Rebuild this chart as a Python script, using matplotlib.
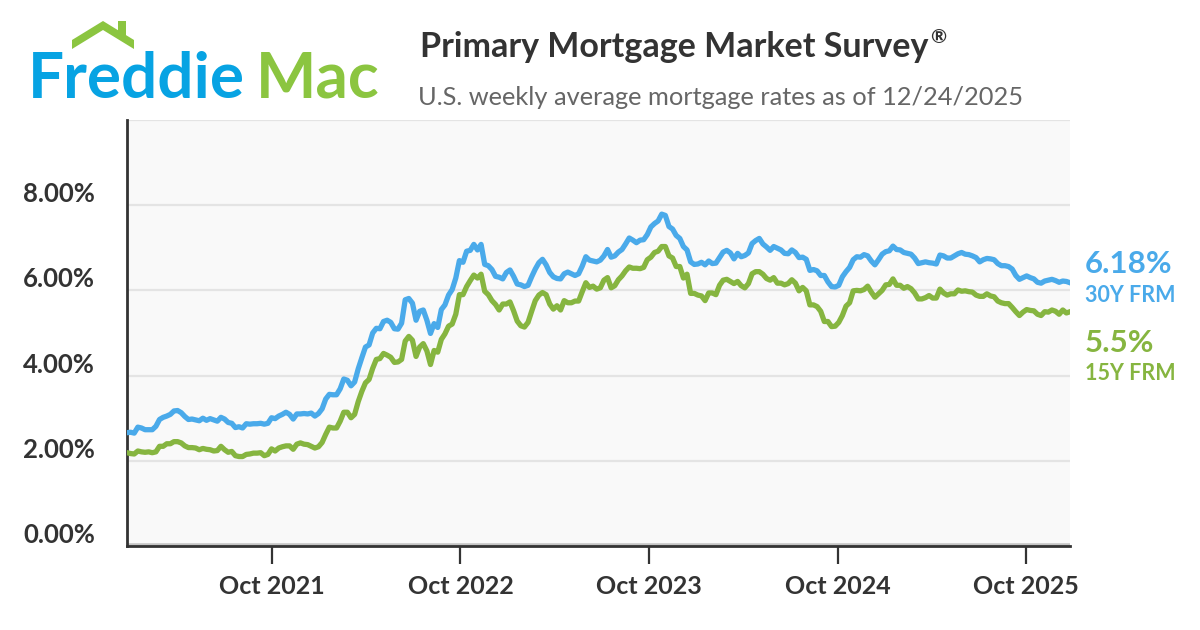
import matplotlib
matplotlib.use('Agg')
import matplotlib.pyplot as plt
import matplotlib.transforms as mtransforms
from matplotlib.patches import Polygon
import pandas as pd

plt.rcParams['font.family'] = ['Lato', 'DejaVu Sans']

# weekly 30-year fixed rate (%), starting 2020-12-24
frm30_2020 = [2.66, 2.67]
frm30_2021 = [2.65, 2.79, 2.77, 2.73, 2.73, 2.73, 2.81, 2.97, 3.02, 3.05, 3.09, 3.17,
              3.18, 3.13, 3.04, 2.97, 2.98, 2.96, 2.94, 3.00, 2.95, 2.99, 2.96, 2.93,
              3.02, 2.98, 2.90, 2.88, 2.78, 2.80, 2.77, 2.87, 2.86, 2.87, 2.87, 2.88,
              2.86, 2.88, 3.01, 2.99, 3.05, 3.09, 3.14, 3.09, 2.98, 3.10, 3.10, 3.11,
              3.10, 3.12, 3.05, 3.11]
frm30_2022 = [3.22, 3.45, 3.56, 3.55, 3.55, 3.69, 3.92, 3.89, 3.76, 3.85, 4.16, 4.42,
              4.67, 4.72, 5.00, 5.11, 5.10, 5.27, 5.30, 5.25, 5.10, 5.09, 5.23, 5.78,
              5.81, 5.70, 5.30, 5.51, 5.54, 5.30, 4.99, 5.22, 5.13, 5.55, 5.66, 5.89,
              6.02, 6.29, 6.70, 6.66, 6.92, 6.94, 7.08, 6.95, 7.08, 6.61, 6.58, 6.49,
              6.33, 6.31, 6.27, 6.42]
frm30_2023 = [6.48, 6.33, 6.15, 6.13, 6.09, 6.12, 6.32, 6.50, 6.65, 6.73, 6.60, 6.42,
              6.32, 6.28, 6.27, 6.39, 6.43, 6.39, 6.35, 6.39, 6.57, 6.79, 6.71, 6.69,
              6.67, 6.71, 6.81, 6.96, 6.78, 6.81, 6.90, 6.96, 7.09, 7.23, 7.18, 7.12,
              7.18, 7.19, 7.31, 7.49, 7.57, 7.63, 7.79, 7.76, 7.50, 7.44, 7.29, 7.22,
              7.03, 6.95, 6.67, 6.61]
frm30_2024 = [6.62, 6.66, 6.60, 6.69, 6.63, 6.64, 6.77, 6.90, 6.94, 6.88, 6.74, 6.87,
              6.79, 6.82, 6.88, 7.10, 7.17, 7.22, 7.09, 7.02, 6.94, 7.03, 6.99, 6.95,
              6.87, 6.86, 6.95, 6.89, 6.77, 6.78, 6.73, 6.47, 6.49, 6.46, 6.35, 6.35,
              6.20, 6.09, 6.08, 6.12, 6.32, 6.44, 6.54, 6.72, 6.79, 6.78, 6.84, 6.81,
              6.69, 6.60, 6.72, 6.85]
frm30_2025 = [6.91, 6.93, 7.04, 6.96, 6.95, 6.89, 6.87, 6.85, 6.76, 6.63, 6.65, 6.67,
              6.65, 6.64, 6.62, 6.83, 6.81, 6.76, 6.76, 6.81, 6.86, 6.89, 6.85, 6.84,
              6.81, 6.77, 6.67, 6.72, 6.75, 6.74, 6.72, 6.63, 6.58, 6.58, 6.56, 6.50,
              6.35, 6.26, 6.30, 6.34, 6.30, 6.27, 6.19, 6.17, 6.22, 6.24, 6.26, 6.23,
              6.19, 6.22, 6.21, 6.18]

# weekly 15-year fixed rate (%)
frm15_2020 = [2.19, 2.17]
frm15_2021 = [2.16, 2.23, 2.21, 2.20, 2.21, 2.19, 2.21, 2.34, 2.34, 2.40, 2.40, 2.45,
              2.45, 2.42, 2.35, 2.31, 2.31, 2.30, 2.26, 2.29, 2.27, 2.26, 2.23, 2.24,
              2.34, 2.26, 2.20, 2.22, 2.12, 2.10, 2.10, 2.15, 2.16, 2.18, 2.18, 2.19,
              2.12, 2.15, 2.28, 2.23, 2.30, 2.33, 2.35, 2.35, 2.27, 2.39, 2.42, 2.39,
              2.38, 2.34, 2.30, 2.33]
frm15_2022 = [2.43, 2.62, 2.79, 2.77, 2.77, 2.93, 3.14, 3.14, 3.01, 3.09, 3.39, 3.63,
              3.83, 3.91, 4.17, 4.38, 4.40, 4.52, 4.48, 4.43, 4.31, 4.32, 4.38, 4.81,
              4.92, 4.83, 4.45, 4.67, 4.75, 4.58, 4.26, 4.59, 4.55, 4.85, 4.98, 5.16,
              5.21, 5.44, 5.90, 5.90, 6.09, 6.23, 6.36, 6.29, 6.38, 5.98, 5.90, 5.76,
              5.67, 5.54, 5.68, 5.68]
frm15_2023 = [5.73, 5.52, 5.28, 5.17, 5.14, 5.25, 5.51, 5.76, 5.89, 5.95, 5.90, 5.68,
              5.56, 5.64, 5.54, 5.76, 5.71, 5.71, 5.75, 5.75, 5.97, 6.18, 6.07, 6.10,
              6.03, 6.06, 6.24, 6.30, 6.06, 6.11, 6.25, 6.34, 6.46, 6.55, 6.52, 6.52,
              6.51, 6.54, 6.72, 6.78, 6.89, 6.92, 7.03, 7.03, 6.81, 6.76, 6.56, 6.56,
              6.29, 6.38, 5.93, 5.93]
frm15_2024 = [5.89, 5.87, 5.76, 5.94, 5.94, 5.90, 6.12, 6.24, 6.26, 6.21, 6.16, 6.21,
              6.11, 6.06, 6.16, 6.39, 6.44, 6.44, 6.38, 6.28, 6.24, 6.30, 6.17, 6.17,
              6.13, 6.16, 6.25, 6.17, 5.99, 6.07, 5.99, 5.66, 5.66, 5.62, 5.51, 5.27,
              5.27, 5.15, 5.16, 5.25, 5.41, 5.63, 5.71, 5.99, 6.00, 5.99, 6.02, 6.10,
              5.96, 5.84, 5.92, 6.00]
frm15_2025 = [6.13, 6.14, 6.27, 6.12, 6.12, 6.05, 6.09, 6.04, 5.94, 5.80, 5.80, 5.83,
              5.88, 5.82, 5.82, 6.03, 5.94, 5.89, 5.92, 5.92, 6.01, 5.98, 5.99, 5.97,
              5.96, 5.89, 5.86, 5.86, 5.92, 5.87, 5.85, 5.75, 5.71, 5.69, 5.69, 5.60,
              5.50, 5.41, 5.49, 5.55, 5.53, 5.52, 5.44, 5.41, 5.50, 5.49, 5.54, 5.51,
              5.44, 5.54, 5.47, 5.50]

frm30 = frm30_2020 + frm30_2021 + frm30_2022 + frm30_2023 + frm30_2024 + frm30_2025
frm15 = frm15_2020 + frm15_2021 + frm15_2022 + frm15_2023 + frm15_2024 + frm15_2025
dates = pd.date_range('2020-12-24', periods=len(frm30), freq='7D')

xtick_dates = ['2021-10-01', '2022-10-01', '2023-10-01', '2024-10-01', '2025-10-01']
xtick_labels = ['Oct 2021', 'Oct 2022', 'Oct 2023', 'Oct 2024', 'Oct 2025']
ytick_vals = [0, 2, 4, 6, 8, 10]
ytick_labels = ['0.00%', '2.00%', '4.00%', '6.00%', '8.00%', '']

BLUE = '#4aaaea'
GREEN = '#86b540'
DARK = '#333333'
W, H = 1200, 630

fig = plt.figure(figsize=(12, 6.3), dpi=100, facecolor='white')
ax = fig.add_axes([127 / W, 1 - 546 / H, 943 / W, 426 / H])
ax.set_facecolor('#f9f9f9')

for v in ytick_vals[1:]:
    ax.axhline(v, color='#e4e4e4', lw=1.6, zorder=1)
ax.axhline(0, color='#c4c4c4', lw=4, zorder=1)

ax.plot(dates, frm30, color=BLUE, lw=3.8, solid_joinstyle='round', zorder=3)
ax.plot(dates, frm15, color=GREEN, lw=3.8, solid_joinstyle='round', zorder=3)

ax.set_xlim(dates[0], dates[-1])
ax.set_ylim(0, 10)

for s in ['top', 'right']:
    ax.spines[s].set_visible(False)
for s in ['left', 'bottom']:
    ax.spines[s].set_color(DARK)
    ax.spines[s].set_linewidth(2)

ax.set_xticks(pd.to_datetime(xtick_dates))
ax.set_xticklabels(xtick_labels, fontsize=18, fontweight='bold', color=DARK)
ax.tick_params(axis='x', direction='out', length=13, width=1.6, color=DARK, pad=8)

ax.set_yticks(ytick_vals)
ax.set_yticklabels(ytick_labels, fontsize=18.5, fontweight='bold', color=DARK)
ax.tick_params(axis='y', length=0, pad=23)
shift = mtransforms.ScaledTranslation(0, 13 / 100, fig.dpi_scale_trans)
for lbl in ax.get_yticklabels():
    lbl.set_transform(lbl.get_transform() + shift)

# end-of-series labels
fig.text(1085 / W, 1 - 273 / H, f'{frm30[-1]:g}%', fontsize=22.5, fontweight='bold',
         color=BLUE, va='baseline')
fig.text(1085 / W, 1 - 302 / H, '30Y FRM', fontsize=15.5, fontweight='bold',
         color=BLUE, va='baseline')
fig.text(1085 / W, 1 - 352 / H, f'{frm15[-1]:g}%', fontsize=22.5, fontweight='bold',
         color=GREEN, va='baseline')
fig.text(1085 / W, 1 - 380 / H, '15Y FRM', fontsize=15.5, fontweight='bold',
         color=GREEN, va='baseline')

# header
title = fig.text(420 / W, 1 - 57 / H, 'Primary Mortgage Market Survey', fontsize=24.5,
                 fontweight='bold', color=DARK, va='baseline')
renderer = fig.canvas.get_renderer()
tb = title.get_window_extent(renderer)
fig.text((tb.x1 + 2) / W, 1 - 43 / H, '\u00ae', fontsize=14, fontweight='bold',
         color=DARK, va='baseline')
fig.text(418 / W, 1 - 105 / H, 'U.S. weekly average mortgage rates as of 12/24/2025',
         fontsize=18.3, color='#666666', va='baseline')

# logo
fig.text(28 / W, 1 - 98 / H, 'Freddie', fontsize=46, fontweight='bold',
         color='#07a3e3', va='baseline')
fig.text(256 / W, 1 - 98 / H, 'Mac', fontsize=46, fontweight='bold',
         color='#8bc540', va='baseline')
roof = [(72, 49), (72, 40), (103, 21), (118, 30.2), (118, 21), (126, 21),
        (126, 35.1), (134, 40), (134, 49), (103, 30)]
fig.patches.append(Polygon([(x / W, 1 - y / H) for x, y in roof], closed=True,
                           transform=fig.transFigure, facecolor='#8bc540',
                           edgecolor='none'))

fig.savefig('out.png', dpi=100, facecolor='white')
